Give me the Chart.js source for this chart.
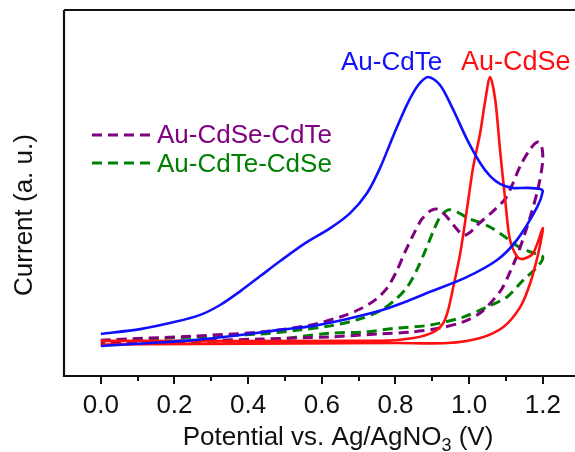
<!DOCTYPE html>
<html>
<head>
<meta charset="utf-8">
<script src="https://cdn.jsdelivr.net/npm/chart.js@4.4.0/dist/chart.umd.min.js"></script>
<style>
  body { margin: 0; background: #fff; overflow: hidden; }
  canvas { display: block; }
</style>
</head>
<body>
<canvas id="cvChart" width="575" height="452"></canvas>
<script>
// --- data (x in V, current in arbitrary units 0..100) ---
const cdteX = [0.00, 0.107, 0.202, 0.270, 0.324, 0.379, 0.433, 0.487, 0.555, 0.623, 0.677, 0.723, 0.758, 0.794, 0.832, 0.862, 0.889, 0.921, 0.957, 0.995, 1.030, 1.057, 1.084, 1.117, 1.157, 1.193, 1.20,
               1.185, 1.130, 1.076, 0.989, 0.894, 0.826, 0.758, 0.669, 0.577, 0.487, 0.379, 0.251, 0.134, 0.00];
const cdteY = [11.5, 12.8, 14.8, 16.7, 19.4, 23.2, 27.3, 31.4, 36.3, 40.4, 44.5, 50.0, 56.8, 65.6, 74.3, 79.5, 81.7, 79.5, 72.7, 64.5, 58.2, 54.6, 52.5, 51.4, 51.4, 51.1, 50.5,
               46.2, 37.2, 31.7, 26.8, 23.0, 20.2, 17.8, 15.6, 13.7, 12.6, 11.2, 9.8, 9.0, 8.2];

const cdseX = [0.00, 0.76, 0.85, 0.903, 0.93, 0.943, 0.957, 0.976, 0.995, 1.011, 1.03, 1.044, 1.057, 1.071, 1.084, 1.098, 1.111, 1.131, 1.147, 1.174, 1.20,
               1.188, 1.166, 1.139, 1.093, 1.03, 0.94, 0.805, 0.00];
const cdseY = [9.6, 9.6, 10.4, 12.0, 14.5, 18.0, 24.3, 33.6, 46.2, 57.1, 66.4, 75.4, 81.7, 75.4, 61.7, 48.1, 37.2, 32.5, 32.0, 33.6, 40.4,
               33.6, 25.4, 18.9, 13.4, 10.4, 9.0, 9.0, 8.6];

const cdseCdteX = [0.00, 0.25, 0.43, 0.568, 0.658, 0.704, 0.745, 0.777, 0.802, 0.826, 0.851, 0.872, 0.894, 0.913, 0.935, 0.957, 0.984, 1.003, 1.025, 1.066, 1.098, 1.117, 1.139, 1.166, 1.185, 1.196,
                   1.20, 1.188, 1.169, 1.150, 1.131, 1.111, 1.090, 1.063, 1.030, 0.984, 0.921, 0.840, 0.758, 0.623, 0.433, 0.251, 0.00];
const cdseCdteY = [9.8, 10.9, 12.0, 13.9, 16.4, 18.3, 20.8, 24.0, 28.4, 33.9, 39.1, 42.9, 45.1, 45.6, 44.0, 41.3, 38.5, 39.3, 41.5, 45.1, 48.4, 52.2, 57.4, 62.0, 63.9, 63.1,
                   59.0, 51.6, 44.5, 38.5, 33.1, 28.4, 24.0, 20.5, 17.2, 14.8, 13.1, 12.0, 11.5, 10.7, 10.1, 9.6, 9.0];

const cdteCdseX = [0.00, 0.433, 0.542, 0.623, 0.704, 0.758, 0.799, 0.832, 0.859, 0.883, 0.903, 0.921, 0.943, 0.968, 0.995, 1.025, 1.057, 1.093, 1.131, 1.166, 1.20,
                   1.185, 1.147, 1.103, 1.049, 0.984, 0.894, 0.805, 0.713, 0.623, 0.433, 0.00];
const cdteCdseY = [9.6, 11.5, 12.6, 13.7, 15.6, 17.8, 20.8, 24.3, 29.2, 34.7, 39.6, 43.4, 45.4, 44.8, 43.2, 42.1, 40.7, 38.3, 35.5, 33.9, 32.5,
                   29.8, 26.2, 21.6, 18.9, 16.1, 13.9, 13.1, 12.0, 11.7, 9.6, 9.0];

const seriesNames = ['Au-CdTe', 'Au-CdSe', 'Au-CdSe-CdTe', 'Au-CdTe-CdSe'];
const seriesColors = ['#1010ff', '#ff1010', '#800080', '#008000'];
const xTickValues = [0, 0.1, 0.2, 0.3, 0.4, 0.5, 0.6, 0.7, 0.8, 0.9, 1.0, 1.1, 1.2];
const xTitleParts = ['Potential vs. Ag/AgNO', '3', ' (V)'];
const yTitle = 'Current (a. u.)';

const FONT = '"Liberation Sans", Arial, sans-serif';

function toPoints(xs, ys) {
    return xs.map((x, i) => ({ x: x, y: ys[i] }));
}

// --- frame, tick marks, titles, legend and peak labels ---
const decorPlugin = {
    id: 'decor',
    afterDraw(chart) {
        const c = chart.ctx;
        const a = chart.chartArea;
        const xs = chart.scales.x;
        c.save();
        c.strokeStyle = '#111';
        c.lineWidth = 2.2;
        c.beginPath();
        c.moveTo(a.left, a.top);
        c.lineTo(a.right, a.top);
        c.moveTo(a.left, a.top);
        c.lineTo(a.left, a.bottom);
        c.lineTo(a.right, a.bottom);
        c.stroke();

        // tick marks below the axis
        c.lineWidth = 2;
        xTickValues.forEach(v => {
            const px = Math.round(xs.getPixelForValue(v));
            const major = Math.round(v * 10) % 2 === 0;
            c.beginPath();
            c.moveTo(px, a.bottom);
            c.lineTo(px, a.bottom + (major ? 8 : 5));
            c.stroke();
        });

        c.fillStyle = '#111';
        c.textBaseline = 'alphabetic';
        c.textAlign = 'left';

        // x title with subscript
        c.font = '26px ' + FONT;
        const w0 = c.measureText(xTitleParts[0]).width;
        c.font = '18px ' + FONT;
        const w1 = c.measureText(xTitleParts[1]).width;
        c.font = '26px ' + FONT;
        const w2 = c.measureText(xTitleParts[2]).width;
        let tx = 338 - (w0 + w1 + w2) / 2;
        c.fillText(xTitleParts[0], tx, 445);
        tx += w0;
        c.font = '18px ' + FONT;
        c.fillText(xTitleParts[1], tx, 451);
        tx += w1;
        c.font = '26px ' + FONT;
        c.fillText(xTitleParts[2], tx, 445);

        // y title
        c.save();
        c.translate(32, 215);
        c.rotate(-Math.PI / 2);
        c.textAlign = 'center';
        c.fillText(yTitle, 0, 0);
        c.restore();

        // legend for the dashed curves
        const legendRows = [[2, 135, 143], [3, 163, 172]];
        legendRows.forEach(([i, ly, by]) => {
            c.strokeStyle = seriesColors[i];
            c.lineWidth = 3;
            c.setLineDash([10, 6]);
            c.beginPath();
            c.moveTo(92, ly);
            c.lineTo(150, ly);
            c.stroke();
            c.setLineDash([]);
            c.fillStyle = seriesColors[i];
            c.fillText(seriesNames[i], 157, by);
        });

        // peak labels
        c.fillStyle = seriesColors[0];
        c.fillText(seriesNames[0], 341, 70);
        c.fillStyle = seriesColors[1];
        c.font = '27px ' + FONT;
        c.fillText(seriesNames[1], 461, 70);
        c.restore();
    }
};

const ctx = document.getElementById('cvChart').getContext('2d');

const chart = new Chart(ctx, {
    type: 'line',
    data: {
        datasets: [
            { label: seriesNames[0], data: toPoints(cdteX, cdteY), borderColor: seriesColors[0], borderWidth: 2.6 },
            { label: seriesNames[1], data: toPoints(cdseX, cdseY), borderColor: seriesColors[1], borderWidth: 2.6 },
            { label: seriesNames[2], data: toPoints(cdseCdteX, cdseCdteY), borderColor: seriesColors[2], borderWidth: 3, borderDash: [10, 6] },
            { label: seriesNames[3], data: toPoints(cdteCdseX, cdteCdseY), borderColor: seriesColors[3], borderWidth: 3, borderDash: [10, 6] }
        ]
    },
    options: {
        responsive: false,
        animation: false,
        layout: { padding: { left: 64, top: 10, right: 0, bottom: 0 } },
        elements: {
            point: { radius: 0 },
            line: { tension: 0.3, fill: false }
        },
        plugins: {
            legend: { display: false },
            tooltip: { enabled: false }
        },
        scales: {
            x: {
                type: 'linear',
                min: -0.1,
                max: 1.2875,
                grid: { display: false },
                border: { display: false },
                afterBuildTicks: scale => {
                    scale.ticks = xTickValues.map(v => ({ value: v }));
                },
                afterFit: scale => { scale.height = 76; },
                ticks: {
                    padding: 6,
                    color: '#111',
                    font: { size: 26, family: FONT },
                    maxRotation: 0,
                    autoSkip: false,
                    callback: v => (Math.round(v * 10) % 2 === 0 ? v.toFixed(1) : '')
                }
            },
            y: {
                display: false,
                min: 0,
                max: 100
            }
        }
    },
    plugins: [decorPlugin]
});
</script>
</body>
</html>
